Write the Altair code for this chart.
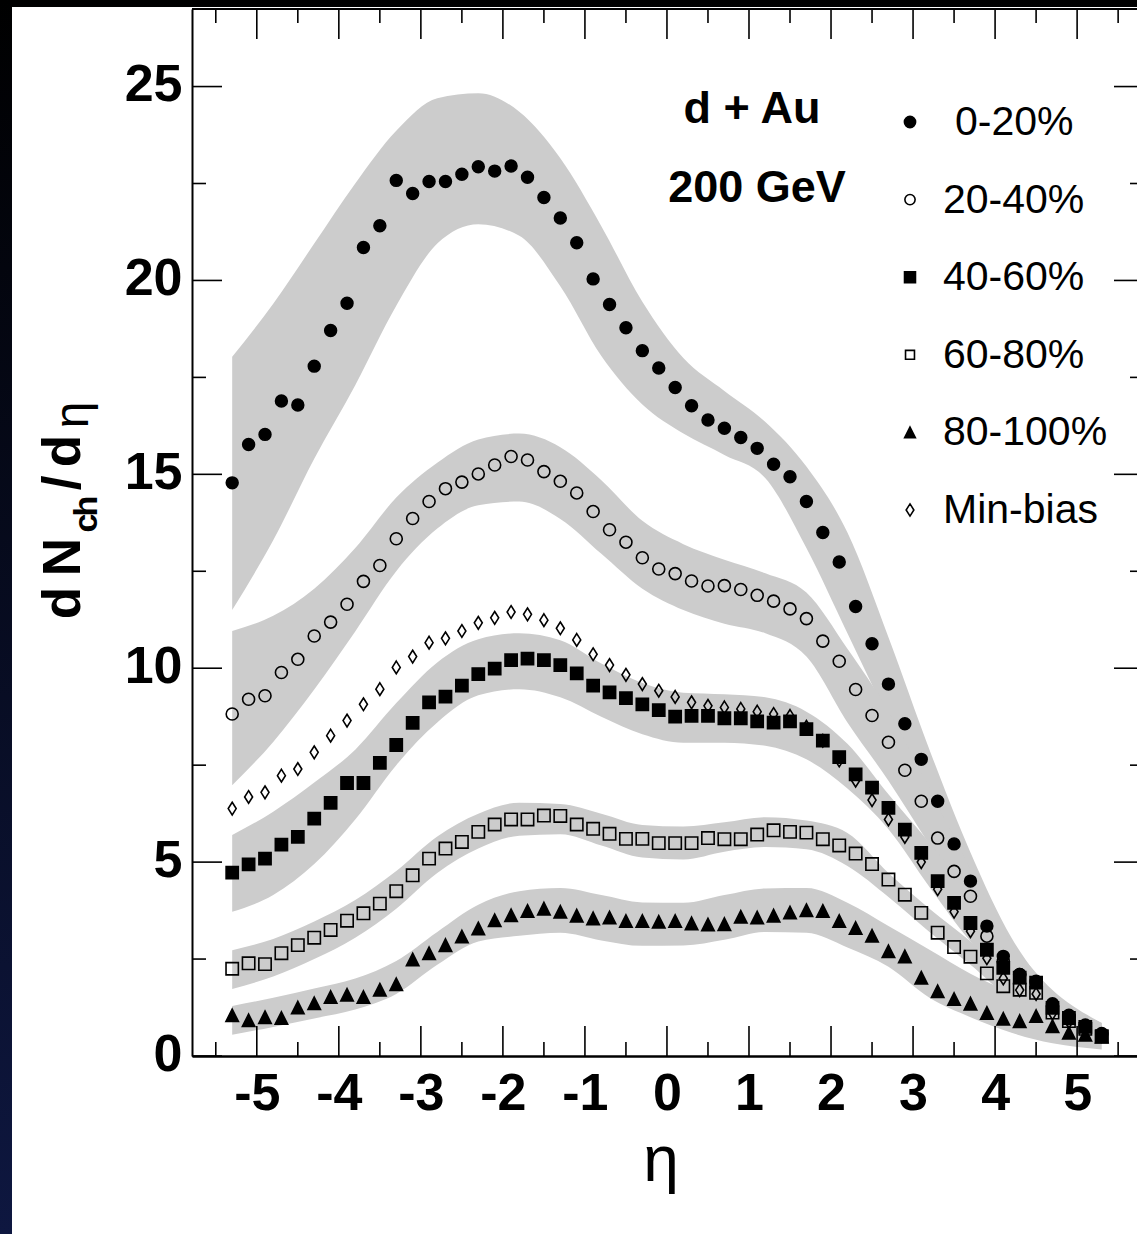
import altair as alt
import pandas as pd

# ---------------- data ----------------
ETA = [-5.3, -5.1, -4.9, -4.7, -4.5, -4.3, -4.1, -3.9, -3.7, -3.5, -3.3, -3.1, -2.9, -2.7,
       -2.5, -2.3, -2.1, -1.9, -1.7, -1.5, -1.3, -1.1, -0.9, -0.7, -0.5, -0.3, -0.1, 0.1,
       0.3, 0.5, 0.7, 0.9, 1.1, 1.3, 1.5, 1.7, 1.9, 2.1, 2.3, 2.5, 2.7, 2.9, 3.1, 3.3,
       3.5, 3.7, 3.9, 4.1, 4.3, 4.5, 4.7, 4.9, 5.1, 5.3]

C0_20 = [14.78, 15.77, 16.03, 16.89, 16.79, 17.79, 18.71, 19.41, 20.85, 21.41, 22.58, 22.24, 22.55, 22.55,
         22.74, 22.93, 22.82, 22.95, 22.66, 22.14, 21.61, 20.97, 20.04, 19.38, 18.78, 18.19, 17.74, 17.24,
         16.77, 16.40, 16.19, 15.95, 15.67, 15.26, 14.94, 14.30, 13.50, 12.74, 11.59, 10.63, 9.59, 8.57,
         7.65, 6.57, 5.47, 4.51, 3.35, 2.57, 2.10, 1.93, 1.35, 1.05, 0.80, 0.58]
C20_40 = [8.82, 9.20, 9.29, 9.89, 10.23, 10.83, 11.19, 11.65, 12.24, 12.65, 13.34, 13.86, 14.30, 14.63,
          14.80, 15.01, 15.24, 15.46, 15.37, 15.07, 14.82, 14.52, 14.04, 13.57, 13.25, 12.85, 12.56, 12.44,
          12.25, 12.12, 12.13, 12.03, 11.88, 11.73, 11.53, 11.28, 10.70, 10.18, 9.45, 8.78, 8.09, 7.37,
          6.57, 5.62, 4.76, 4.12, 3.09, 2.44, 2.10, 1.90, 1.30, 1.02, 0.76, 0.56]
C40_60 = [4.73, 4.94, 5.09, 5.45, 5.65, 6.12, 6.53, 7.04, 7.04, 7.56, 8.02, 8.59, 9.12, 9.27,
          9.55, 9.85, 9.99, 10.21, 10.25, 10.21, 10.08, 9.87, 9.55, 9.38, 9.23, 9.07, 8.92, 8.75,
          8.77, 8.77, 8.71, 8.71, 8.63, 8.60, 8.63, 8.43, 8.13, 7.71, 7.26, 6.92, 6.40, 5.84,
          5.24, 4.51, 3.95, 3.43, 2.74, 2.27, 2.02, 1.89, 1.24, 0.98, 0.75, 0.51]
C60_80 = [2.25, 2.39, 2.37, 2.65, 2.86, 3.05, 3.25, 3.49, 3.68, 3.93, 4.25, 4.66, 5.09, 5.35,
          5.52, 5.78, 5.97, 6.10, 6.10, 6.20, 6.19, 5.97, 5.86, 5.73, 5.60, 5.60, 5.49, 5.49,
          5.49, 5.62, 5.59, 5.59, 5.71, 5.82, 5.78, 5.76, 5.59, 5.43, 5.22, 4.95, 4.55, 4.16,
          3.69, 3.18, 2.81, 2.56, 2.13, 1.80, 1.71, 1.63, 1.12, 0.90, 0.70, 0.50]
C80_100 = [1.05, 0.92, 1.00, 0.98, 1.25, 1.36, 1.52, 1.58, 1.52, 1.71, 1.85, 2.49, 2.65, 2.86,
           3.08, 3.29, 3.50, 3.63, 3.74, 3.80, 3.72, 3.62, 3.55, 3.57, 3.48, 3.48, 3.46, 3.48,
           3.42, 3.39, 3.40, 3.59, 3.57, 3.62, 3.70, 3.76, 3.74, 3.48, 3.30, 3.10, 2.70, 2.57,
           2.02, 1.67, 1.47, 1.35, 1.11, 0.96, 0.90, 1.03, 0.77, 0.60, 0.55, 0.50]
CMINB = [6.38, 6.68, 6.80, 7.23, 7.40, 7.83, 8.26, 8.65, 9.07, 9.46, 10.02, 10.30, 10.66, 10.77,
         10.96, 11.17, 11.30, 11.45, 11.39, 11.24, 11.03, 10.73, 10.36, 10.08, 9.83, 9.59, 9.42, 9.26,
         9.12, 9.03, 8.99, 8.95, 8.88, 8.82, 8.77, 8.49, 8.13, 7.62, 7.10, 6.60, 6.10, 5.65,
         5.00, 4.30, 3.72, 3.22, 2.52, 2.00, 1.70, 1.60, 1.10, 0.88, 0.68, 0.52]

SERIES = ["0-20%", "20-40%", "40-60%", "60-80%", "80-100%", "Min-bias"]
VALUES = [C0_20, C20_40, C40_60, C60_80, C80_100, CMINB]
DRAW_ORDER = [5, 0, 1, 2, 3, 4]
SHAPES = ["circle", "circle", "square", "square", "M0,-1L1,1L-1,1Z", "M0,-1L0.63,0L0,1L-0.63,0Z"]
FILLS = ["black", "transparent", "black", "transparent", "black", "transparent"]
SIZES = [140, 160, 125, 105, 135, 190]
LEG_SIZES = [125, 105, 120, 80, 115, 150]
LEG_DX = [12, 0, 0, 0, 0, 0]

# systematic-error bands (lower / upper edge) on a coarse eta grid
BAND_ETA = [-5.3, -4.8, -4.3, -3.8, -3.3, -2.8, -2.3, -1.8, -1.3, -0.8, -0.3, 0.2, 0.7, 1.2,
            1.7, 2.2, 2.7, 3.2, 3.7, 4.2, 4.7, 5.3]
B0_LO = [11.5, 13.3, 15.4, 17.3, 19.35, 20.95, 21.45, 21.15, 19.85, 18.05, 16.8, 16.05, 15.5, 14.9,
         13.1, 10.9, 8.7, 6.6, 4.3, 2.5, 1.4, 0.7]
B0_HI = [18.03, 19.4, 20.95, 22.5, 23.86, 24.7, 24.83, 24.35, 23.15, 21.4, 19.45, 18.0, 17.15, 16.35,
         15.2, 13.5, 10.8, 7.9, 5.25, 3.05, 1.65, 0.85]
B1_LO = [6.98, 8.1, 9.45, 10.95, 12.5, 13.6, 14.2, 14.3, 13.85, 12.95, 12.05, 11.5, 11.15, 10.9,
         10.3, 8.6, 7.1, 5.45, 3.9, 2.5, 1.4, 0.7]
B1_HI = [10.96, 11.35, 12.05, 13.1, 14.4, 15.3, 15.9, 16.05, 15.7, 14.85, 13.8, 13.2, 12.8, 12.45,
         11.95, 10.5, 8.9, 6.9, 4.8, 2.9, 1.5, 0.8]
B2_LO = [3.72, 4.15, 4.95, 6.1, 7.5, 8.6, 9.3, 9.46, 9.25, 8.75, 8.3, 8.08, 8.08, 8.0,
         7.65, 6.9, 5.85, 4.36, 2.96, 2.0, 1.2, 0.6]
B2_HI = [5.7, 6.3, 7.05, 7.9, 9.1, 10.15, 10.75, 10.9, 10.72, 10.12, 9.62, 9.37, 9.33, 9.25,
         8.88, 8.05, 6.75, 5.5, 4.2, 2.9, 1.7, 0.85]
B3_LO = [1.73, 2.05, 2.5, 3.05, 3.8, 4.72, 5.35, 5.68, 5.72, 5.43, 5.12, 5.07, 5.27, 5.39,
         5.33, 4.9, 4.1, 3.2, 2.35, 1.45, 0.92, 0.4]
B3_HI = [2.73, 3.02, 3.47, 4.02, 4.77, 5.66, 6.25, 6.53, 6.5, 6.25, 5.96, 5.92, 6.03, 6.16,
         6.07, 5.75, 4.72, 3.8, 2.96, 2.05, 1.38, 0.72]
B4_LO = [0.55, 0.75, 0.97, 1.2, 1.6, 2.35, 2.95, 3.1, 3.18, 2.98, 2.84, 2.85, 3.0, 3.2,
         3.18, 2.8, 2.3, 1.5, 1.0, 0.6, 0.33, 0.17]
B4_HI = [1.29, 1.5, 1.74, 2.0, 2.45, 3.2, 3.9, 4.25, 4.33, 4.15, 3.96, 3.95, 4.15, 4.32,
         4.33, 3.95, 3.35, 2.74, 2.12, 1.6, 0.95, 0.65]
BANDS = [(B0_LO, B0_HI), (B1_LO, B1_HI), (B2_LO, B2_HI), (B3_LO, B3_HI), (B4_LO, B4_HI)]

X_MAJOR = [-5, -4, -3, -2, -1, 0, 1, 2, 3, 4, 5]
X_MINOR = [-5.5, -4.5, -3.5, -2.5, -1.5, -0.5, 0.5, 1.5, 2.5, 3.5, 4.5, 5.5]
Y_MAJOR = [0, 5, 10, 15, 20, 25]
Y_MINOR = [2.5, 7.5, 12.5, 17.5, 22.5]

ANNOT = ["d + Au", "200 GeV"]
YTITLE = ["d", "N", "c", "h", "/", "d", "\u03b7"]
XTITLE = "\u03b7"

# ---------------- layout / style ----------------
W, H = 945, 1047
PAD = {"left": 192, "top": 9, "right": 0, "bottom": 178}
XDOM = [-5.79, 5.73]
YDOM = [0, 27]
RIGHT_FRAME = W + 7
MAJ, MIN = 30, 14
FONT = "Liberation Sans"
GRAY = "#cccccc"

xs = alt.Scale(domain=XDOM, nice=False, zero=False)
ys = alt.Scale(domain=YDOM, nice=False, zero=False)

AX = alt.Axis(values=X_MAJOR, title=None, grid=False, ticks=False, tickSize=0,
              domainColor="black", domainWidth=2.5, labelFont=FONT, labelFontSize=52,
              labelFontWeight="bold", labelColor="black", labelPadding=12, labelOverlap=False,
              labelFlush=False, labelExpr="(datum.value < 0 ? '-' : '') + abs(datum.value)",
              zindex=1)
AY = alt.Axis(values=Y_MAJOR, title=None, grid=False, ticks=False, tickSize=0,
              domainColor="black", domainWidth=2, labelFont=FONT, labelFontSize=52,
              labelFontWeight="bold", labelColor="black", labelPadding=10, labelOverlap=False,
              labelFlush=False, labelOffset=-2, zindex=1)

rows = []
for k in DRAW_ORDER:
    for e, v in zip(ETA, VALUES[k]):
        rows.append({"eta": e, "val": v, "series": SERIES[k]})
pts = pd.DataFrame(rows)

brows = []
for i, (lo, hi) in enumerate(BANDS):
    for e, a, b in zip(BAND_ETA, lo, hi):
        brows.append({"eta": e, "lo": a, "hi": b, "band": i})
bands_df = pd.DataFrame(brows)

one = pd.DataFrame({"k": [0]})

bg = alt.Chart(one).mark_rect(
    fill=alt.Gradient(gradient="linear",
                      stops=[alt.GradientStop(color="#000000", offset=0),
                             alt.GradientStop(color="#0e1740", offset=1)],
                      x1=0, x2=0, y1=0, y2=1)
).encode(x=alt.value(-PAD["left"]), x2=alt.value(W), y=alt.value(-PAD["top"]),
         y2=alt.value(H + PAD["bottom"]))

white = alt.Chart(one).mark_rect(fill="white").encode(
    x=alt.value(12 - PAD["left"]), x2=alt.value(W), y=alt.value(7 - PAD["top"]),
    y2=alt.value(H + PAD["bottom"]))

bands = alt.Chart(bands_df).mark_area(color=GRAY, opacity=1, interpolate="monotone").encode(
    x=alt.X("eta:Q", scale=xs, axis=AX),
    y=alt.Y("lo:Q", scale=ys, axis=AY),
    y2="hi:Q",
    detail="band:N",
)


def xtick_layer(vals, y0, y1):
    return alt.Chart(pd.DataFrame({"t": vals})).mark_rule(color="black", strokeWidth=1.6).encode(
        x=alt.X("t:Q", scale=xs, axis=AX), y=alt.value(y0), y2=alt.value(y1))


def ytick_layer(vals, x0, x1):
    return alt.Chart(pd.DataFrame({"t": vals})).mark_rule(color="black", strokeWidth=1.6).encode(
        y=alt.Y("t:Q", scale=ys, axis=AY), x=alt.value(x0), x2=alt.value(x1))


ticks = [
    xtick_layer(X_MAJOR, H, H - MAJ), xtick_layer(X_MINOR, H, H - MIN),
    xtick_layer(X_MAJOR, 0, MAJ), xtick_layer(X_MINOR, 0, MIN),
    ytick_layer(Y_MAJOR, 0, MAJ), ytick_layer(Y_MINOR, 0, MIN),
    ytick_layer(Y_MAJOR, RIGHT_FRAME - MAJ, W), ytick_layer(Y_MINOR, RIGHT_FRAME - MIN, W),
]

points = alt.Chart(pts).mark_point(opacity=1, stroke="black", strokeWidth=1.6).encode(
    x=alt.X("eta:Q", scale=xs, axis=AX),
    y=alt.Y("val:Q", scale=ys, axis=AY),
    shape=alt.Shape("series:N", scale=alt.Scale(domain=SERIES, range=SHAPES), legend=None),
    fill=alt.Fill("series:N", scale=alt.Scale(domain=SERIES, range=FILLS), legend=None),
    size=alt.Size("series:N", scale=alt.Scale(domain=SERIES, range=SIZES), legend=None),
)

top_frame = alt.Chart(one).mark_rule(color="black", strokeWidth=2).encode(
    x=alt.value(0), x2=alt.value(W), y=alt.value(0))

# legend drawn by hand (symbol + label per entry)
LEG_SX, LEG_TX, LEG_Y0, LEG_DY = 718, 751, 113, 77.6
legend_layers = []
for i, name in enumerate(SERIES):
    yc = LEG_Y0 + i * LEG_DY
    legend_layers.append(alt.Chart(one).mark_point(
        shape=SHAPES[i], fill=FILLS[i], stroke="black", strokeWidth=1.6, size=LEG_SIZES[i],
        opacity=1).encode(x=alt.value(LEG_SX), y=alt.value(yc)))
    legend_layers.append(alt.Chart(one).mark_text(
        text=name, font=FONT, fontSize=41, align="left", baseline="alphabetic",
        color="black", dx=LEG_DX[i]).encode(x=alt.value(LEG_TX), y=alt.value(yc + 13)))

texts = [
    alt.Chart(one).mark_text(text=ANNOT[0], font=FONT, fontSize=45, fontWeight="bold",
                             align="center", baseline="alphabetic", color="black").encode(
        x=alt.value(560), y=alt.value(114)),
    alt.Chart(one).mark_text(text=ANNOT[1], font=FONT, fontSize=45, fontWeight="bold",
                             align="center", baseline="alphabetic", color="black").encode(
        x=alt.value(565), y=alt.value(193)),
    alt.Chart(one).mark_text(text=XTITLE, font=FONT, fontSize=64, align="center",
                             baseline="alphabetic", color="black").encode(
        x=alt.value(469), y=alt.value(1172)),
]

# y-axis title placed glyph by glyph (subscript "ch")
YT_X = [-112, -112, -95, -95, -112, -112, -104]
YT_Y = [594, 548, 514, 497, 474, 442, 406]
YT_SIZE = [53, 53, 34, 34, 53, 53, 48]
YT_WEIGHT = ["bold", "bold", "bold", "bold", "bold", "bold", "normal"]
for ch, px, py, fs, fw in zip(YTITLE, YT_X, YT_Y, YT_SIZE, YT_WEIGHT):
    texts.append(alt.Chart(one).mark_text(text=ch, font=FONT, fontSize=fs, fontWeight=fw,
                                          angle=270, align="center", baseline="alphabetic",
                                          color="black").encode(x=alt.value(px), y=alt.value(py)))

chart = alt.layer(bg, white, bands, *ticks, points, top_frame, *legend_layers, *texts).properties(
    width=W, height=H, padding=PAD,
    autosize=alt.AutoSizeParams(type="none", contains="content"),
).configure_view(strokeWidth=0)

chart.save("out.html", embed_options={"renderer": "svg", "actions": False})
